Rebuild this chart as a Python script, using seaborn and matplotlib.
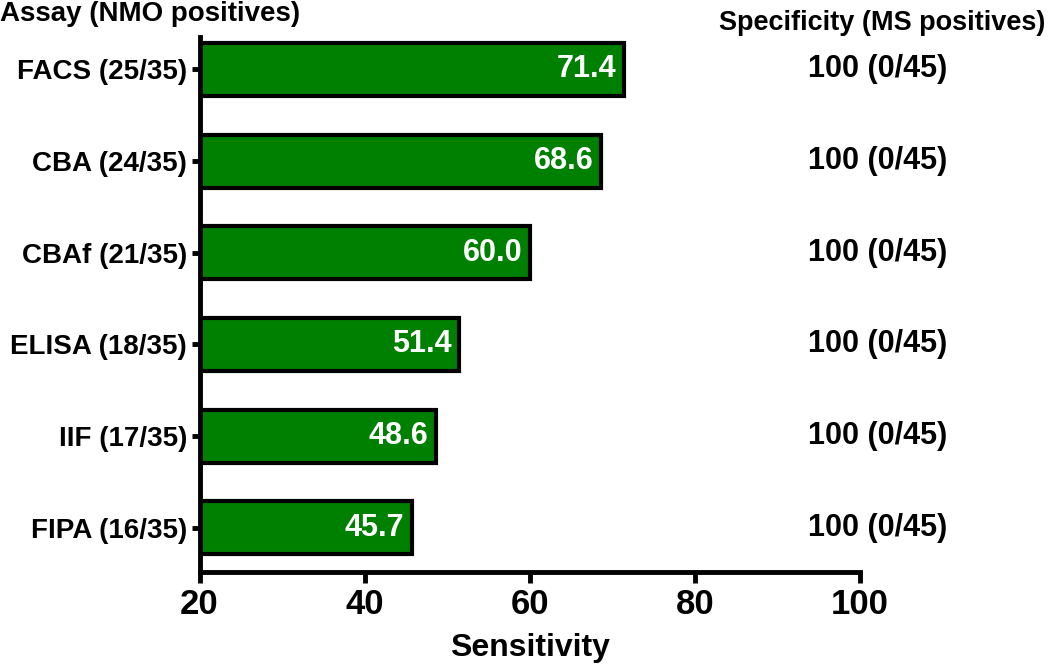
import pandas as pd
import matplotlib.pyplot as plt
import matplotlib.transforms as mtransforms
import seaborn as sns

# Data
assays = ["FACS (25/35)", "CBA (24/35)", "CBAf (21/35)", "ELISA (18/35)", "IIF (17/35)", "FIPA (16/35)"]
sensitivity = [71.4, 68.6, 60.0, 51.4, 48.6, 45.7]
specificity = ["100 (0/45)"] * 6

df = pd.DataFrame({"Assay": assays, "Sensitivity": sensitivity, "Specificity": specificity})

sns.set_style("ticks", {"axes.edgecolor": "black", "xtick.color": "black",
                        "ytick.color": "black", "text.color": "black",
                        "axes.labelcolor": "black"})
plt.rcParams['font.family'] = ['Liberation Sans', 'DejaVu Sans']
plt.rcParams['font.weight'] = 'bold'

fig = plt.figure(figsize=(10.5, 6.68), dpi=100)
ax = fig.add_axes([0.19, 0.144, 0.629, 0.8])

sns.barplot(data=df, x="Sensitivity", y="Assay", orient="h", color="#008000",
            saturation=1, edgecolor="black", linewidth=3, width=0.58, ax=ax)

ax.set_xlim(20, 100)
ax.set_ylim(5.48, -0.35)
ax.set_xticks([20, 40, 60, 80, 100])
ax.set_xlabel("Sensitivity", fontsize=23, fontweight='bold', labelpad=8)
ax.set_ylabel("")

for side in ["top", "right"]:
    ax.spines[side].set_visible(False)
for side in ["left", "bottom"]:
    ax.spines[side].set_linewidth(3.5)
ax.tick_params(axis='x', width=3.5, length=8, labelsize=25, pad=4)
ax.tick_params(axis='y', width=3.5, length=6, labelsize=20, pad=3)
for lbl in ax.get_xticklabels() + ax.get_yticklabels():
    lbl.set_fontweight('bold')

# value labels inside bars
for i, v in enumerate(sensitivity):
    ax.text(v - 0.9, i, f"{v:.1f}", color="white", fontsize=22, fontweight='bold',
            ha='right', va='center')

# specificity column on the right
trans = mtransforms.blended_transform_factory(ax.transAxes, ax.transData)
for i, s in enumerate(specificity):
    ax.text(0.921, i, s, transform=trans, fontsize=22, fontweight='bold',
            ha='left', va='center', color='black')

fig.text(0.0, 0.998, "Assay (NMO positives)", fontsize=20, fontweight='bold', ha='left', va='top')
fig.text(0.996, 0.985, "Specificity (MS positives)", fontsize=19.5, fontweight='bold', ha='right', va='top')

fig.savefig("out.png", dpi=100)
